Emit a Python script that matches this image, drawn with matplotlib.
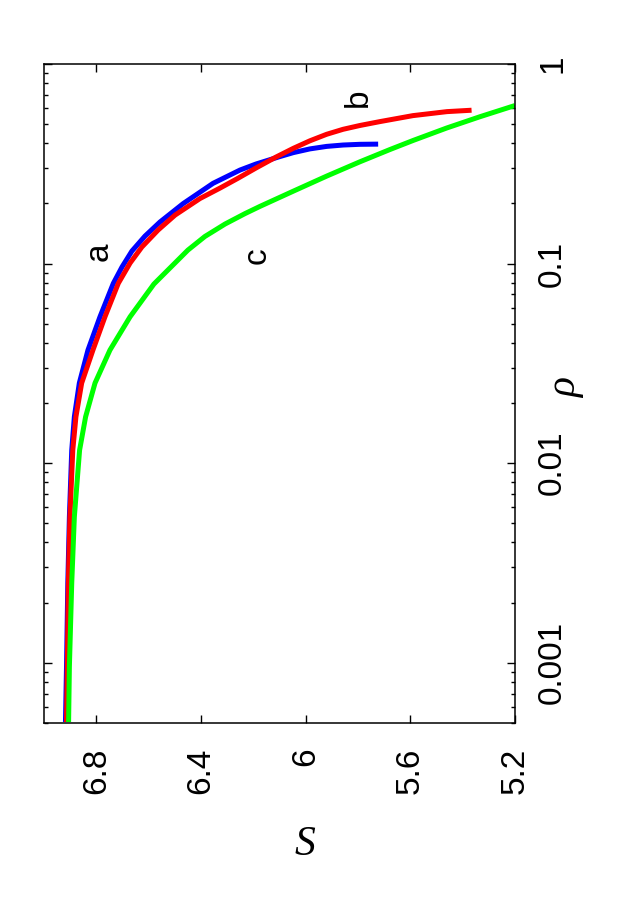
import numpy as np
import matplotlib
matplotlib.use("Agg")
import matplotlib.pyplot as plt
from matplotlib.ticker import FixedLocator, FixedFormatter, LogLocator, NullFormatter

plt.rcParams['font.family'] = ['Liberation Sans', 'DejaVu Sans']

# curve a (blue)
rho_a = [0.000504, 0.000953, 0.002505, 0.00538, 0.01161, 0.01706, 0.02518, 0.03684, 0.05411,
         0.07959, 0.09605, 0.1155, 0.1373, 0.1614, 0.1998, 0.2523, 0.2941, 0.3153, 0.3438,
         0.3597, 0.3754, 0.3864, 0.3926, 0.3958, 0.3967]
S_a = [6.918, 6.914, 6.909, 6.903, 6.894, 6.884, 6.865, 6.832, 6.786,
       6.735, 6.702, 6.664, 6.614, 6.557, 6.468, 6.354, 6.251, 6.190, 6.098,
       6.047, 5.984, 5.920, 5.857, 5.793, 5.723]

# curve b (red)
rho_b = [0.000504, 0.000953, 0.002505, 0.00538, 0.01161, 0.01706, 0.02518, 0.03684, 0.05411,
         0.07959, 0.1006, 0.1210, 0.1472, 0.1750, 0.2117, 0.2390, 0.2674, 0.3011, 0.3419,
         0.3780, 0.4121, 0.4443, 0.4707, 0.4918, 0.5145, 0.5512, 0.5772, 0.5866]
S_b = [6.914, 6.911, 6.907, 6.901, 6.890, 6.878, 6.856, 6.813, 6.767,
       6.716, 6.671, 6.626, 6.564, 6.499, 6.404, 6.327, 6.259, 6.190, 6.113,
       6.047, 5.984, 5.920, 5.857, 5.793, 5.716, 5.590, 5.460, 5.366]

# curve c (green)
rho_c = [0.000504, 0.000953, 0.002505, 0.00538, 0.01161, 0.01706, 0.02518, 0.03684, 0.05411,
         0.07893, 0.1168, 0.1367, 0.1578, 0.1779, 0.1933, 0.2306, 0.2742, 0.3234, 0.3727,
         0.4140, 0.4778, 0.5442, 0.6194]
S_c = [6.906, 6.903, 6.894, 6.884, 6.864, 6.841, 6.805, 6.748, 6.671,
       6.580, 6.450, 6.385, 6.308, 6.232, 6.175, 6.047, 5.920, 5.793, 5.678,
       5.589, 5.461, 5.334, 5.200]

S_ticks = [6.8, 6.4, 6.0, 5.6, 5.2]
S_tick_labels = ['6.8', '6.4', '6', '5.6', '5.2']
rho_ticks = [0.001, 0.01, 0.1, 1]
rho_tick_labels = ['0.001', '0.01', '0.1', '1']

fig = plt.figure(figsize=(6.31, 9.0), dpi=100)
ax = fig.add_axes([44 / 631, 1 - 722.7 / 900, 471 / 631, 658.7 / 900])

ax.plot(S_a, rho_a, color='#0000ff', lw=3.6, solid_capstyle='butt', solid_joinstyle='round')
ax.plot(S_b, rho_b, color='#ff0000', lw=3.6, solid_capstyle='butt', solid_joinstyle='round')
ax.plot(S_c, rho_c, color='#00ff00', lw=3.6, solid_capstyle='butt', solid_joinstyle='round')

ax.set_yscale('log')
ax.set_ylim(5e-4, 1)
ax.set_xlim(7.0, 5.2)

ax.xaxis.set_major_locator(FixedLocator(S_ticks))
ax.xaxis.set_major_formatter(FixedFormatter(S_tick_labels))
ax.yaxis.set_major_locator(FixedLocator(rho_ticks))
ax.yaxis.set_major_formatter(FixedFormatter(rho_tick_labels))
ax.yaxis.set_minor_locator(LogLocator(base=10, subs=np.arange(2, 10), numticks=20))
ax.yaxis.set_minor_formatter(NullFormatter())

ax.tick_params(axis='x', which='major', direction='in', top=True, bottom=True,
               length=6, width=1, labelsize=24, pad=18, labelrotation=90)
ax.tick_params(axis='y', which='both', direction='in', left=True, right=True,
               labelleft=False, labelright=True, width=1, labelsize=24, pad=16, labelrotation=90)
ax.tick_params(axis='y', which='major', length=6)
ax.tick_params(axis='y', which='minor', length=3)
for t in ax.get_yticklabels():
    t.set_va('center')
for sp in ax.spines.values():
    sp.set_linewidth(1.1)

ax.text(6.790, 0.114, 'a', rotation=90, fontsize=24, ha='center', va='center')
ax.text(5.800, 0.676, 'b', rotation=90, fontsize=24, ha='center', va='center')
ax.text(6.186, 0.110, 'c', rotation=90, fontsize=24, ha='center', va='center')

fig.text(566 / 631, 1 - 388 / 900, 'ρ', rotation=90, fontsize=30, style='italic',
         family='Liberation Serif', ha='center', va='center')
fig.text(305 / 631, 1 - 845 / 900, 'S', fontsize=30, style='italic',
         family='Liberation Serif', ha='center', va='center')

fig.savefig('out.png', dpi=100)
